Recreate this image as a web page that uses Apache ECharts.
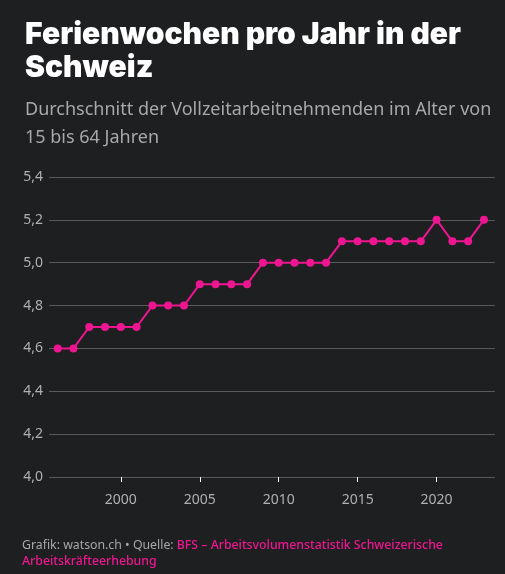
<!DOCTYPE html>
<html><head><meta charset="utf-8">
<script src="https://cdn.jsdelivr.net/npm/echarts@6/dist/echarts.min.js"></script>
<style>html,body{margin:0;padding:0;background:#1e1f21;}#c{width:505px;height:574px;}</style>
</head><body><div id="c"></div>
<script>
const years = [1996,1997,1998,1999,2000,2001,2002,2003,2004,2005,2006,2007,2008,2009,2010,2011,2012,2013,2014,2015,2016,2017,2018,2019,2020,2021,2022,2023];
const weeks = [4.6,4.6,4.7,4.7,4.7,4.7,4.8,4.8,4.8,4.9,4.9,4.9,4.9,5.0,5.0,5.0,5.0,5.0,5.1,5.1,5.1,5.1,5.1,5.1,5.2,5.1,5.1,5.2];
const xTicks = [2000,2005,2010,2015,2020];
const titleText = 'Ferienwochen pro Jahr in der\nSchweiz';
const subText = 'Durchschnitt der Vollzeitarbeitnehmenden im Alter von\n15 bis 64 Jahren';

const chart = echarts.init(document.getElementById('c'), null, {renderer:'canvas'});
chart.setOption({
  backgroundColor:'#1e1f21',
  animation:false,
  title:{
    text:titleText, subtext:subText, left:20, top:13, itemGap:12,
    textStyle:{color:'#ffffff', fontSize:30, fontWeight:900, fontFamily:'Inter', lineHeight:33},
    subtextStyle:{color:'#a8a8a8', fontSize:18, fontFamily:'Noto Sans', lineHeight:28}
  },
  grid:{left:49, right:10, top:177, bottom:97, containLabel:false},
  xAxis:{
    type:'value', min:1995.45, max:2023.7,
    splitLine:{show:false},
    axisLine:{show:false},
    axisTick:{show:true, customValues:xTicks, length:5, lineStyle:{color:'#ffffff', width:1}},
    axisLabel:{customValues:xTicks, color:'#b0b0b0', fontSize:14, fontFamily:'Noto Sans', margin:16, formatter:v=>String(v)}
  },
  yAxis:{
    type:'value', min:4.0, max:5.4, interval:0.2,
    axisLine:{show:false}, axisTick:{show:false},
    splitLine:{lineStyle:{color:'#5a5a5a', width:1}},
    axisLabel:{color:'#b0b0b0', fontSize:14, fontFamily:'Noto Sans', margin:6, formatter:v=>v.toFixed(1).replace('.',',')}
  },
  series:[{
    type:'line', data:years.map((y,i)=>[y,weeks[i]]),
    symbol:'circle', symbolSize:8, showSymbol:true,
    lineStyle:{color:'#ee1690', width:2},
    itemStyle:{color:'#ee1690'}
  }],
  graphic:[{
    type:'text', left:22, top:539,
    style:{
      text:'{g|Grafik: watson.ch • Quelle: }{p|BFS – Arbeitsvolumenstatistik Schweizerische}\n{p|Arbeitskräfteerhebung}',
      rich:{
        g:{fill:'#a8a8a8', fontSize:12.3, fontFamily:'Noto Sans', lineHeight:16},
        p:{fill:'#ee1690', fontSize:12.3, fontWeight:500, fontFamily:'Noto Sans', lineHeight:16}
      }
    }
  }]
});
</script></body></html>
